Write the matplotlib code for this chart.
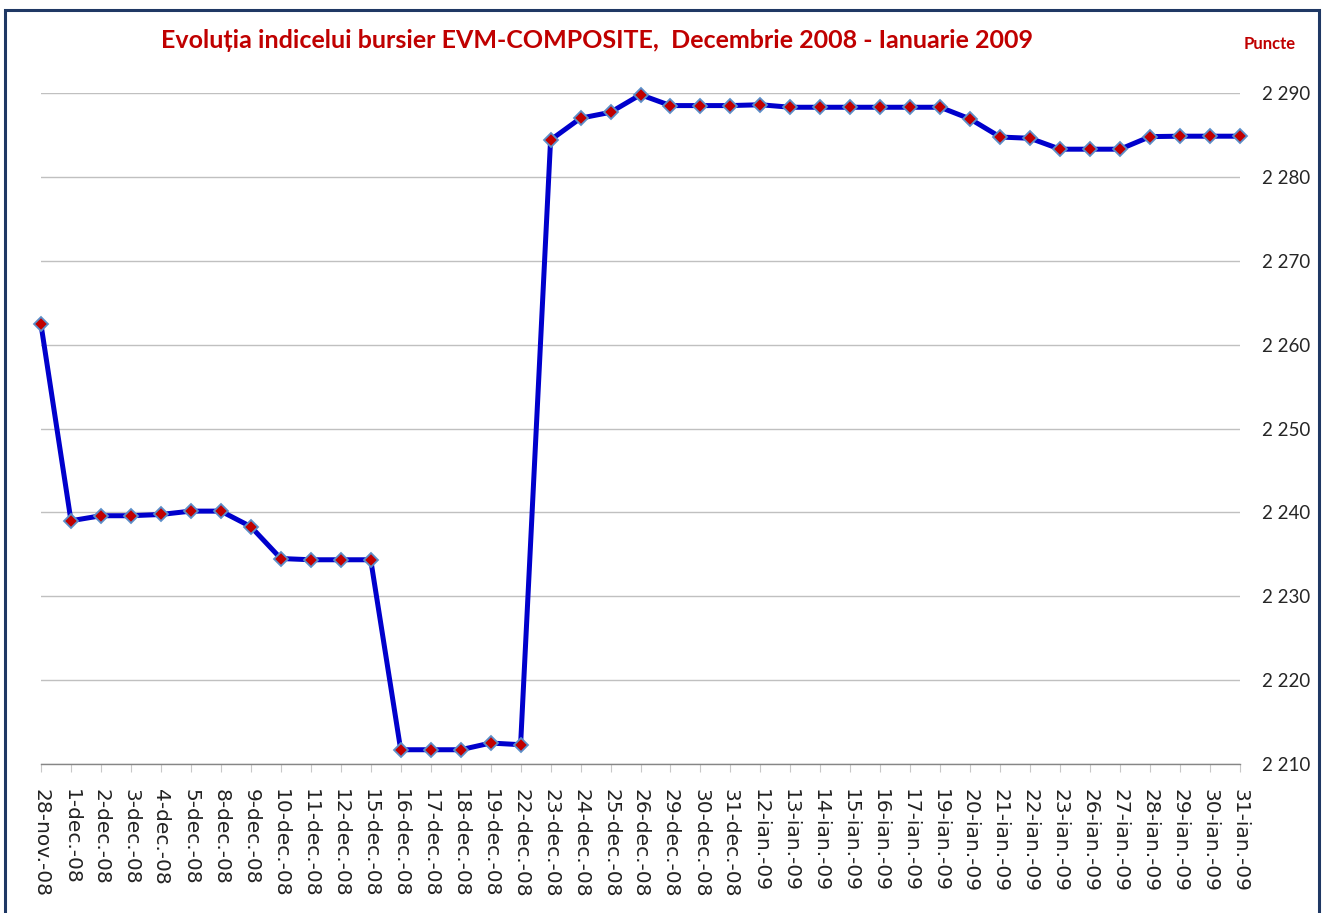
import matplotlib
matplotlib.use('agg')
import matplotlib.pyplot as plt
from matplotlib.patches import Rectangle
from matplotlib.ticker import FuncFormatter


dates = ['28-nov.-08', '1-dec.-08', '2-dec.-08', '3-dec.-08', '4-dec.-08', '5-dec.-08',
         '8-dec.-08', '9-dec.-08', '10-dec.-08', '11-dec.-08', '12-dec.-08', '15-dec.-08',
         '16-dec.-08', '17-dec.-08', '18-dec.-08', '19-dec.-08', '22-dec.-08', '23-dec.-08',
         '24-dec.-08', '25-dec.-08', '26-dec.-08', '29-dec.-08', '30-dec.-08', '31-dec.-08',
         '12-ian.-09', '13-ian.-09', '14-ian.-09', '15-ian.-09', '16-ian.-09', '17-ian.-09',
         '19-ian.-09', '20-ian.-09', '21-ian.-09', '22-ian.-09', '23-ian.-09', '26-ian.-09',
         '27-ian.-09', '28-ian.-09', '29-ian.-09', '30-ian.-09', '31-ian.-09']

index_values = [2262.4, 2239.0, 2239.6, 2239.6, 2239.75, 2240.15,
                2240.15, 2238.3, 2234.5, 2234.35, 2234.35, 2234.35,
                2211.7, 2211.7, 2211.7, 2212.5, 2212.3, 2284.4,
                2287.0, 2287.7, 2289.8, 2288.5, 2288.5, 2288.5,
                2288.6, 2288.3, 2288.3, 2288.3, 2288.3, 2288.3,
                2288.3, 2286.9, 2284.75, 2284.6, 2283.3, 2283.3,
                2283.3, 2284.8, 2284.85, 2284.85, 2284.85]

y_ticks = [2210, 2220, 2230, 2240, 2250, 2260, 2270, 2280, 2290]

TITLE = 'Evoluția indicelui bursier EVM-COMPOSITE,  Decembrie 2008 - Ianuarie 2009'
RED = '#c00000'
NARROW = ['Lato', 'DejaVu Sans']

W, H = 1323, 913
fig = plt.figure(figsize=(W / 100, H / 100), dpi=100)
fig.patch.set_facecolor('white')

# plot area in pixel coords of the reference
x0, x1, ytop, ybot = 41, 1240, 93, 764
ax = fig.add_axes([x0 / W, 1 - ybot / H, (x1 - x0) / W, (ybot - ytop) / H])

xs = list(range(len(dates)))
ax.plot(xs, index_values, color='#0000cc', lw=3.6, marker='D', ms=7.5,
        mfc=RED, mec='#5b8ec9', mew=1.3, clip_on=False, zorder=3)

ax.set_xlim(0, len(dates) - 1)
ax.set_ylim(2210, 2290)
ax.set_yticks(y_ticks)
ax.yaxis.tick_right()
ax.yaxis.set_major_formatter(FuncFormatter(lambda v, p: f'{int(v):,}'.replace(',', ' ')))
ax.grid(axis='y', color='#c0c0c0', lw=1)
ax.set_axisbelow(True)

for side in ['top', 'left', 'right']:
    ax.spines[side].set_visible(False)
ax.spines['bottom'].set_color('#868686')
ax.spines['bottom'].set_linewidth(1)

ax.set_xticks(xs)
ax.set_xticklabels(dates, rotation=-90, fontsize=14.5, color='#222222',
                   family='DejaVu Sans')
ax.tick_params(axis='x', length=6, color='#c8c8c8', pad=12)
ax.tick_params(axis='y', length=0, pad=16)
for lab in ax.get_yticklabels():
    lab.set_family(NARROW)
    lab.set_fontsize(13.5)
    lab.set_color('#262626')

fig.text(597 / W, 1 - 41 / H, TITLE, ha='center', va='center', fontsize=18,
         fontweight='bold', color=RED, family=NARROW)
fig.text(1270 / W, 1 - 44 / H, 'Puncte', ha='center', va='center', fontsize=12,
         fontweight='bold', color=RED, family=NARROW)

# outer chart frame (bottom edge runs off the picture)
fig.patches.append(Rectangle((5 / W, -0.05), (1319 - 5) / W, 1.05 - 10 / H,
                             transform=fig.transFigure, fill=False,
                             edgecolor='#1f3864', lw=2.2))

plt.savefig('out.png', dpi=100, facecolor='white')
